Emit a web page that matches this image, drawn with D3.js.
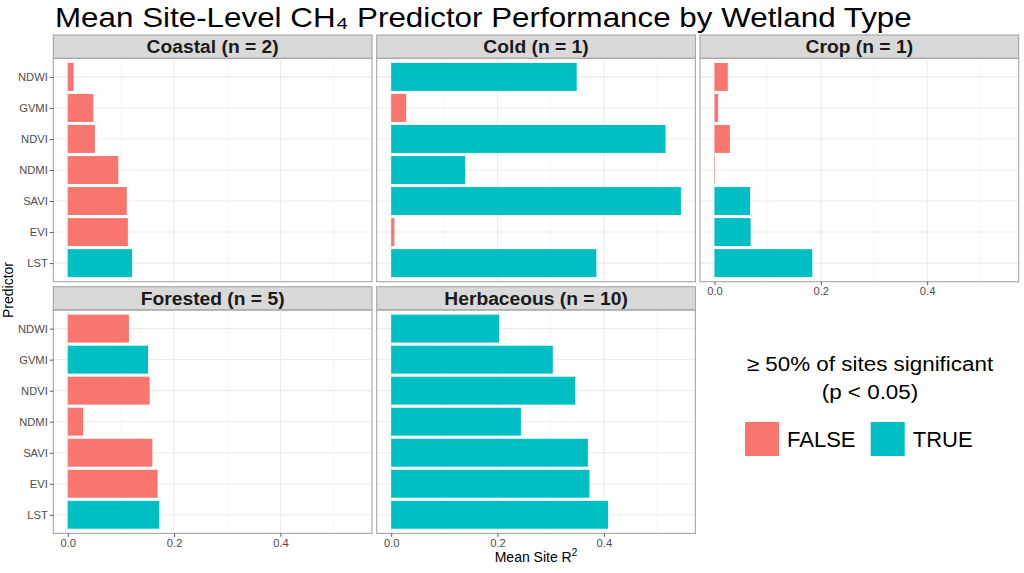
<!DOCTYPE html>
<html lang="en">
<head>
  <meta charset="UTF-8">
  <title>Mean Site-Level CH4 Predictor Performance</title>
  <style>
    body { margin: 0; background: #fff; }
    svg { display: block; font-family: "Liberation Sans", Arial, sans-serif; }
  </style>
</head>
<body>
  <div id="main"></div>
  <script src="https://d3js.org/d3.v7.min.js"></script>
  <script>
    // data
    const predictors = ['NDWI', 'GVMI', 'NDVI', 'NDMI', 'SAVI', 'EVI', 'LST']
    const wetlandTypes = ['Coastal (n = 2)', 'Cold (n = 1)', 'Crop (n = 1)', 'Forested (n = 5)', 'Herbaceous (n = 10)']

    const coastalR2 = [0.011, 0.048, 0.051, 0.095, 0.111, 0.113, 0.121]
    const coldR2 = [0.349, 0.028, 0.516, 0.139, 0.545, 0.006, 0.386]
    const cropR2 = [0.025, 0.007, 0.029, 0.001, 0.067, 0.068, 0.184]
    const forestedR2 = [0.115, 0.151, 0.154, 0.029, 0.159, 0.169, 0.172]
    const herbaceousR2 = [0.203, 0.304, 0.346, 0.244, 0.370, 0.373, 0.408]

    const coastalSig = [false, false, false, false, false, false, true]
    const coldSig = [true, false, true, true, true, false, true]
    const cropSig = [false, false, false, false, true, true, true]
    const forestedSig = [false, true, false, false, false, false, true]
    const herbaceousSig = [true, true, true, true, true, true, true]

    const xTicks = [0, 0.2, 0.4]
    const xMinor = [0.1, 0.3, 0.5]
    const legendLabels = ['FALSE', 'TRUE']

    const allR2 = [coastalR2, coldR2, cropR2, forestedR2, herbaceousR2]
    const allSig = [coastalSig, coldSig, cropSig, forestedSig, herbaceousSig]

    const panels = wetlandTypes.map((name, i) => ({
      name,
      bars: predictors.map((p, j) => ({ predictor: p, value: allR2[i][j], sig: allSig[i][j] }))
    }))

    const [width, height] = [1024, 573]
    const svg = d3.select('#main').append('svg')
      .attr('width', width)
      .attr('height', height)

    const color = d3.scaleOrdinal().domain([false, true]).range(['#F8766D', '#00BFC4'])

    // the source image is a little stretched sideways, so wide texts get stretched too
    const stretch = 1.1
    function widen(sel) {
      const w = sel.node().getComputedTextLength()
      sel.attr('textLength', w * stretch).attr('lengthAdjust', 'spacingAndGlyphs')
    }

    // panel layout
    const colX = [53.3, 376.7, 700]
    const panelW = 318.7
    const rowTop = [35, 286.7]
    const stripH = 23.3
    const plotH = 223.4

    const maxV = d3.max(allR2.flat())
    const x = d3.scaleLinear().domain([-0.05 * maxV, 1.05 * maxV]).range([0, panelW])
    const y = d3.scalePoint().domain(predictors).range([0, plotH]).padding(0.6)
    const barH = y.step() * 0.9

    // title
    svg.append('text')
      .attr('x', 55).attr('y', 27)
      .style('font-size', '28.5px')
      .attr('fill', '#000')
      .text('Mean Site-Level CH\u2084 Predictor Performance by Wetland Type')
      .call(widen)

    panels.forEach((panel, i) => {
      const col = i % 3
      const row = Math.floor(i / 3)
      const g = svg.append('g')
        .attr('transform', `translate(${colX[col]},${rowTop[row]})`)

      // strip
      g.append('rect')
        .attr('x', 0).attr('y', 0)
        .attr('width', panelW).attr('height', stripH)
        .attr('fill', '#D9D9D9')
        .attr('stroke', '#A6A6A6').attr('stroke-width', 1.1)
      const st = g.append('text')
        .attr('y', stripH / 2 + 6.3)
        .style('font-size', '17.5px').style('font-weight', 'bold')
        .attr('fill', '#1A1A1A')
        .text(panel.name)
        .call(widen)
      st.attr('x', panelW / 2 - st.node().getComputedTextLength() / 2)

      const p = g.append('g').attr('transform', `translate(0,${stripH})`)

      // grid
      p.selectAll('.minor').data(xMinor).join('line')
        .attr('x1', d => x(d)).attr('x2', d => x(d))
        .attr('y1', 0).attr('y2', plotH)
        .attr('stroke', '#F4F4F4').attr('stroke-width', 0.6)
      p.selectAll('.major').data(xTicks).join('line')
        .attr('x1', d => x(d)).attr('x2', d => x(d))
        .attr('y1', 0).attr('y2', plotH)
        .attr('stroke', '#EBEBEB').attr('stroke-width', 1.1)
      p.selectAll('.hgrid').data(predictors).join('line')
        .attr('x1', 0).attr('x2', panelW)
        .attr('y1', d => y(d)).attr('y2', d => y(d))
        .attr('stroke', '#EBEBEB').attr('stroke-width', 1.1)

      // bars
      p.selectAll('.bar').data(panel.bars).join('rect')
        .attr('x', x(0))
        .attr('y', d => y(d.predictor) - barH / 2)
        .attr('width', d => x(d.value) - x(0))
        .attr('height', barH)
        .attr('fill', d => color(d.sig))

      // border
      p.append('rect')
        .attr('x', 0).attr('y', 0)
        .attr('width', panelW).attr('height', plotH)
        .attr('fill', 'none')
        .attr('stroke', '#A6A6A6').attr('stroke-width', 1.1)

      // y axis on the left column
      if (col === 0) {
        const yAxis = p.append('g').call(d3.axisLeft(y).tickSize(3.5).tickPadding(2))
        yAxis.select('.domain').remove()
        yAxis.selectAll('line').attr('stroke', '#333').attr('stroke-width', 0.8)
        yAxis.selectAll('text')
          .attr('fill', '#4D4D4D')
          .style('font-size', '11.2px')
          .style('font-family', '"Liberation Sans", Arial, sans-serif')
      }

      // x axis on bottom of each column
      if (row === 1 || col === 2) {
        const xAxis = p.append('g')
          .attr('transform', `translate(0,${plotH})`)
          .call(d3.axisBottom(x).tickValues(xTicks).tickFormat(d3.format('.1f')).tickSize(3.5).tickPadding(2))
        xAxis.select('.domain').remove()
        xAxis.selectAll('line').attr('stroke', '#333').attr('stroke-width', 0.8)
        xAxis.selectAll('text')
          .attr('fill', '#4D4D4D')
          .style('font-size', '11.2px')
          .style('font-family', '"Liberation Sans", Arial, sans-serif')
      }
    })

    // axis titles
    svg.append('text')
      .attr('x', 536).attr('y', 562)
      .attr('text-anchor', 'middle')
      .style('font-size', '14px')
      .attr('fill', '#000')
      .call(t => {
        t.append('tspan').text('Mean Site R')
        t.append('tspan').attr('dy', -6).style('font-size', '10px').text('2')
      })

    svg.append('text')
      .attr('transform', 'translate(13,290) rotate(-90)')
      .attr('text-anchor', 'middle')
      .style('font-size', '14px')
      .attr('fill', '#000')
      .text('Predictor')

    // legend
    const legend = svg.append('g')
    const legendTitle = ['\u2265 50% of sites significant', '(p < 0.05)']
    legendTitle.forEach((line, i) => {
      const t = legend.append('text')
        .attr('y', 371 + i * 28)
        .style('font-size', '20px')
        .text(line)
      const w = t.node().getComputedTextLength() * 1.12
      t.attr('textLength', w).attr('lengthAdjust', 'spacingAndGlyphs')
        .attr('x', 870 - w / 2)
    })

    const keyX = [745, 870.7]
    legendLabels.forEach((lab, i) => {
      legend.append('rect')
        .attr('x', keyX[i]).attr('y', 422)
        .attr('width', 34).attr('height', 34)
        .attr('fill', color(lab === 'TRUE'))
      legend.append('text')
        .attr('x', keyX[i] + 42).attr('y', 446.5)
        .style('font-size', '22px')
        .text(lab)
    })
  </script>
</body>
</html>
